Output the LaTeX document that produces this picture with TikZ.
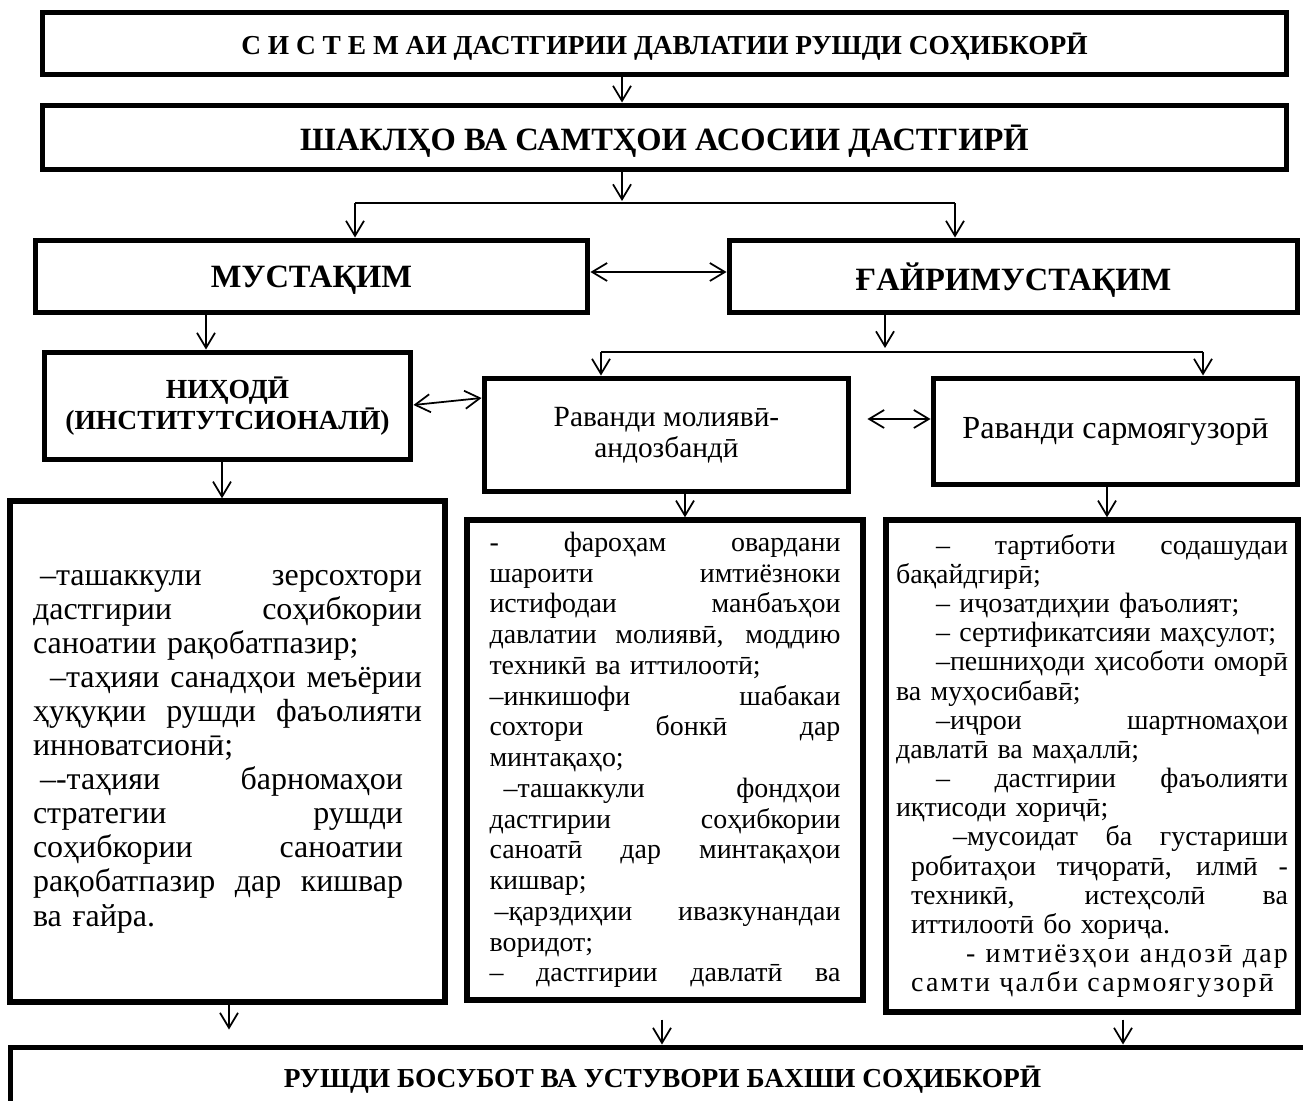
\documentclass[tikz,border=0pt]{standalone}
\usepackage{fontspec}
\setmainfont{Liberation Serif}
\usepackage{tikz}
\usetikzlibrary{arrows.meta}
% one justified line of a text box
\newcommand{\jl}[2][\linewidth]{{\spaceskip=0pt\xspaceskip=0pt\makebox[#1][s]{#2}}}

\begin{document}
\begin{tikzpicture}[x=0.02cm, y=-0.02cm,
    box/.style={draw, line width=0.1cm, inner sep=0pt, align=center},
    head/.style={box, text depth=0pt, font=\bfseries\fontsize{#1}{21}\selectfont},
    txtbox/.style={draw, line width=0.11cm, inner sep=0pt, align=left},
    link/.style={line width=0.035cm},
    arr/.style={link, -{Straight Barb[length=0.3cm, width=0.36cm]}},
    dbl/.style={link, {Straight Barb[length=0.3cm, width=0.36cm]}-{Straight Barb[length=0.3cm, width=0.36cm]}}]
  \clip (0,0) rectangle (1303,1101);
  % Headings
  \node[head=15.6, minimum width=24.9cm, minimum height=1.26cm] (sys) at (664.5,43.5) {С И С Т Е М АИ ДАСТГИРИИ ДАВЛАТИИ РУШДИ СОҲИБКОРӢ};
  \node[head=18.5, minimum width=24.9cm, minimum height=1.3cm] (forms) at (664.5,137.5) {ШАКЛҲО ВА САМТҲОИ АСОСИИ ДАСТГИРӢ};
  \node[head=18.5, minimum width=11.06cm, minimum height=1.46cm] (mus) at (311.5,276.5) {МУСТАҚИМ};
  \node[head=18.5, minimum width=11.38cm, minimum height=1.46cm] (ghr) at (1013.5,276.5) {ҒАЙРИМУСТАҚИМ};
  % Second row
  \node[box, minimum width=7.34cm, minimum height=2.16cm, font=\bfseries\fontsize{15.7}{18}\selectfont] (nih) at (227.5,406) {НИҲОДӢ\\(ИНСТИТУТСИОНАЛӢ)};
  \node[box, minimum width=7.3cm, minimum height=2.28cm, font=\fontsize{16.7}{17.5}\selectfont] (fin) at (666.5,435) {Раванди молиявӣ-\\андозбандӣ};
  \node[box, minimum width=7.3cm, minimum height=2.14cm, font=\fontsize{18.3}{20}\selectfont] (inv) at (1115.5,431.5) {Раванди сармоягузорӣ};
  % Text boxes
  \node[txtbox, minimum width=8.7cm, minimum height=10.02cm, text width=7.78cm, font=\fontsize{18.2}{19.4}\selectfont] (lt) at (227.5,751.5) {%
    \jl{\hspace*{0.14cm}–ташаккули зерсохтори}\\
    \jl{дастгирии соҳибкории}\\
    саноатии рақобатпазир;\\
    \jl{\hspace*{0.34cm}–таҳияи санадҳои меъёрии}\\
    \jl{ҳуқуқии рушди фаъолияти}\\
    инноватсионӣ;\\
    \jl[7.4cm]{\hspace*{0.14cm}–-таҳияи барномаҳои}\\
    \jl[7.4cm]{стратегии рушди}\\
    \jl[7.4cm]{соҳибкории саноатии}\\
    \jl[7.4cm]{рақобатпазир дар кишвар}\\
    ва ғайра.};
  \node[txtbox, minimum width=7.92cm, minimum height=9.6cm, text width=7.02cm, font=\fontsize{15.9}{17.5}\selectfont] (mt) at (665,760) {%
    \jl{- фароҳам овардани}\\
    \jl{шароити имтиёзноки}\\
    \jl{истифодаи манбаъҳои}\\
    \jl{давлатии молиявӣ, моддию}\\
    техникӣ ва иттилоотӣ;\\
    \jl{–инкишофи шабакаи}\\
    \jl{сохтори бонкӣ дар}\\
    минтақаҳо;\\
    \jl{\hspace*{0.28cm}–ташаккули фондҳои}\\
    \jl{дастгирии соҳибкории}\\
    \jl{саноатӣ дар минтақаҳои}\\
    кишвар;\\
    \jl{\hspace*{0.1cm}–қарздиҳии ивазкунандаи}\\
    воридот;\\
    \jl{– дастгирии давлатӣ ва}};
  \node[txtbox, minimum width=8.24cm, minimum height=9.84cm, text width=7.84cm, font=\fontsize{15.9}{16.6}\selectfont] (rt) at (1092,766) {%
    \jl{\hspace*{0.8cm}– тартиботи содашудаи}\\
    бақайдгирӣ;\\
    \hspace*{0.8cm}– иҷозатдиҳии фаъолият;\\
    \hspace*{0.8cm}– сертификатсияи маҳсулот;\\
    \jl{\hspace*{0.8cm}–пешниҳоди ҳисоботи оморӣ}\\
    ва муҳосибавӣ;\\
    \jl{\hspace*{0.8cm}–иҷрои шартномаҳои}\\
    давлатӣ ва маҳаллӣ;\\
    \jl{\hspace*{0.8cm}– дастгирии фаъолияти}\\
    иқтисоди хориҷӣ;\\
    \jl{\hspace*{1.14cm}–мусоидат ба густариши}\\
    \hspace*{0.3cm}\jl[7.54cm]{робитаҳои тиҷоратӣ, илмӣ -}\\
    \hspace*{0.3cm}\jl[7.54cm]{техникӣ, истеҳсолӣ ва}\\
    \hspace*{0.3cm}иттилоотӣ бо хориҷа.\\
    {\addfontfeatures{LetterSpace=8}\jl{\hspace*{1.4cm}- имтиёзҳои андозӣ дар}}\\
    \hspace*{0.3cm}{\addfontfeatures{LetterSpace=8}самти ҷалби сармоягузорӣ}};
  % Result
  \node[head=15.6, minimum width=26.1cm, minimum height=1.2cm] (res) at (662.5,1077) {РУШДИ БОСУБОТ ВА УСТУВОРИ БАХШИ СОҲИБКОРӢ};
  % Links
  \coordinate (s0) at (622,201);
  \coordinate (sl) at (355,203);
  \coordinate (sr) at (955,203);
  \coordinate (t0) at (885,348);
  \coordinate (tl) at (601,352);
  \coordinate (tr) at (1203,352);
  \draw[arr] (sys.south -| s0) -- (forms.north -| s0);
  \draw[arr] (forms.south -| s0) -- (s0);
  \draw[link] (sl) -- (sr);
  \draw[arr] (sl) -- (sl |- mus.north);
  \draw[arr] (sr) -- (sr |- ghr.north);
  \draw[dbl] (mus.east |- 0,272) -- (ghr.west |- 0,272);
  \draw[arr] (mus.south -| 206,0) -- (nih.north -| 206,0);
  \draw[arr] (ghr.south -| t0) -- (t0);
  \draw[link] (tl) -- (tr);
  \draw[arr] (tl) -- (tl |- fin.north);
  \draw[arr] (tr) -- (tr |- inv.north);
  \draw[dbl] (nih.east |- 0,405) -- (fin.west |- 0,398);
  \draw[dbl, shorten <=0.32cm] (fin.east |- 0,419) -- (inv.west |- 0,419);
  \draw[arr] (nih.south -| 222,0) -- (lt.north -| 222,0);
  \draw[arr] (fin.south -| 685,0) -- (mt.north -| 685,0);
  \draw[arr] (inv.south -| 1107,0) -- (rt.north -| 1107,0);
  \draw[arr, shorten >=0.3cm] (lt.south -| 229,0) -- (res.north -| 229,0);
  \draw[arr, shorten <=0.34cm] (mt.south -| 662,0) -- (res.north -| 662,0);
  \draw[arr, shorten <=0.1cm] (rt.south -| 1123,0) -- (res.north -| 1123,0);
\end{tikzpicture}
\end{document}
